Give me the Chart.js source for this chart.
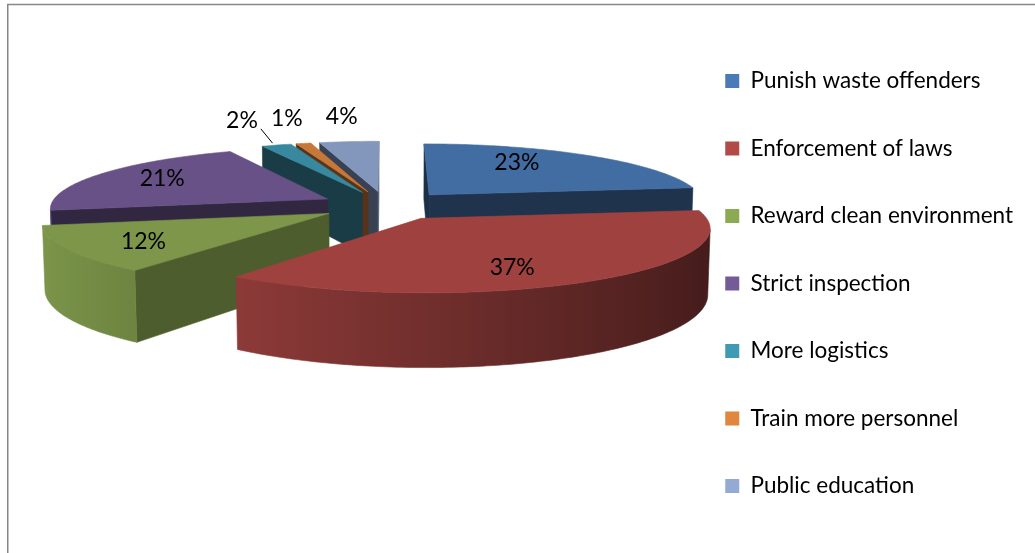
<!DOCTYPE html>
<html>
<head>
<meta charset="utf-8">
<title>Pie 3D</title>
<script src="https://cdn.jsdelivr.net/npm/chart.js@4.4.1/dist/chart.umd.min.js"></script>
<style>
  html, body { margin: 0; padding: 0; background: #fff; }
  #grafica { display: block; }
</style>
</head>
<body>
<canvas id="grafica" width="1035" height="553"></canvas>
<script>
// ===== Datos =====
const categorias = ["Punish waste offenders", "Enforcement of laws", "Reward clean environment",
  "Strict inspection", "More logistics", "Train more personnel", "Public education"];
const porcentajes = [23, 37, 12, 21, 2, 1, 4];
const colores = ["#4a7bb7", "#b34a47", "#8ca953", "#745b97", "#3f9ab3", "#e0863f", "#93aad4"];

// ===== Vista 3D (parecida a Excel) =====
const INCLINACION = 12.6 * Math.PI / 180;
const CAMARA = 7.2;      // distancia de la cámara, en radios
const GROSOR = 0.235;    // alto del pastel, en radios
const SEPARACION = 0.24; // explosión de las porciones
const ESCALA = 1.03;     // radio en pantalla / outerRadius
const SUBIR = -78;       // el pastel va por encima del centro del área
const PEQUENA = 5;       // porciones menores a esto llevan etiqueta afuera
const R_DENTRO_X = 0.65, R_DENTRO_Y = 0.8; // radios de las etiquetas internas
const CORRER_X = -17;    // corrimiento horizontal de las etiquetas internas
const R_FUERA = 1.3;     // radio de las etiquetas externas
const FUENTE = "23px Lato";

function oscurecer(hex, f) {
  const n = parseInt(hex.slice(1), 16);
  const c = [(n >> 16) & 255, (n >> 8) & 255, n & 255].map(v => Math.min(255, Math.round(v * f)));
  return `rgb(${c[0]},${c[1]},${c[2]})`;
}

function poligono(ctx, pts, color) {
  ctx.beginPath();
  pts.forEach((p, k) => k ? ctx.lineTo(p.x, p.y) : ctx.moveTo(p.x, p.y));
  ctx.closePath();
  ctx.fillStyle = color;
  ctx.fill();
  ctx.strokeStyle = color;
  ctx.lineWidth = 0.6;
  ctx.stroke();
}

// ===== Pastel 3D a partir de los arcos que calcula Chart.js =====
const pastel3d = {
  id: "pastel3d",
  beforeDatasetsDraw(chart) {
    const ctx = chart.ctx;
    const arcos = chart.getDatasetMeta(0).data;
    const valores = chart.data.datasets[0].data;
    const total = valores.reduce((a, b) => a + b, 0);
    const cx = arcos[0].x, cy = arcos[0].y + SUBIR;
    const s = arcos[0].outerRadius * ESCALA;
    const sinT = Math.sin(INCLINACION), cosT = Math.cos(INCLINACION);
    const camY = CAMARA * cosT;

    const proyectar = (X, Y, Z) => {
      const f = CAMARA / (CAMARA - (Y * cosT + Z * sinT));
      return { x: cx + s * X * f, y: cy + s * (Y * sinT - Z * cosT) * f };
    };
    const visible = (nx, ny, px, py) => nx * (-px) + ny * (camY - py) > 0;

    const porciones = arcos.map((arc, i) => {
      const a1 = arc.startAngle, a2 = arc.endAngle, mid = (a1 + a2) / 2;
      return { i, a1, a2, mid, ox: Math.cos(mid) * SEPARACION, oy: Math.sin(mid) * SEPARACION };
    });
    const orden = porciones.slice().sort((p, q) =>
      (p.oy + Math.sin(p.mid) * 0.5) - (q.oy + Math.sin(q.mid) * 0.5));

    ctx.save();
    orden.forEach(p => {
      const base = chart.data.datasets[0].backgroundColor[p.i];
      const n = Math.max(2, Math.ceil((p.a2 - p.a1) / (Math.PI / 180)));
      const borde = [];
      for (let k = 0; k <= n; k++) {
        const a = p.a1 + (p.a2 - p.a1) * k / n;
        const X = p.ox + Math.cos(a), Y = p.oy + Math.sin(a);
        borde.push({ a, X, Y, arriba: proyectar(X, Y, 0), abajo: proyectar(X, Y, -GROSOR) });
      }
      const cA = proyectar(p.ox, p.oy, 0), cB = proyectar(p.ox, p.oy, -GROSOR);

      // caras radiales
      const caras = [
        { nx: Math.sin(p.a1), ny: -Math.cos(p.a1), b: borde[0] },
        { nx: -Math.sin(p.a2), ny: Math.cos(p.a2), b: borde[n] }
      ];
      caras.forEach(c => {
        if (!visible(c.nx, c.ny, c.b.X, c.b.Y)) return;
        const f = 0.39 + 0.2 * Math.max(0, c.nx);
        poligono(ctx, [cA, c.b.arriba, c.b.abajo, cB], oscurecer(base, f));
      });

      // pared exterior con degradado horizontal
      let tramo = [];
      const pintarTramo = () => {
        if (tramo.length < 2) { tramo = []; return; }
        const pts = tramo.map(b => b.arriba).concat(tramo.slice().reverse().map(b => b.abajo));
        const xs = tramo.map(b => b.arriba.x);
        const x0 = Math.min(...xs), x1 = Math.max(...xs);
        const g = ctx.createLinearGradient(x0, 0, x1 + 0.01, 0);
        tramo.map(b => ({ t: (b.arriba.x - x0) / Math.max(1, x1 - x0), f: 0.71 - 0.29 * Math.cos(b.a) }))
          .sort((u, v) => u.t - v.t)
          .forEach(st => g.addColorStop(Math.min(1, Math.max(0, st.t)), oscurecer(base, 0.89 * st.f)));
        poligono(ctx, pts, g);
        tramo = [];
      };
      for (let k = 0; k <= n; k++) {
        const b = borde[k];
        if (visible(Math.cos(b.a), Math.sin(b.a), b.X, b.Y)) tramo.push(b);
        else pintarTramo();
      }
      pintarTramo();

      // cara superior
      poligono(ctx, [cA].concat(borde.map(b => b.arriba)), oscurecer(base, 0.89));
    });

    // ===== Etiquetas =====
    ctx.font = FUENTE;
    ctx.fillStyle = "#000";
    ctx.textAlign = "center";
    ctx.textBaseline = "middle";
    const afuera = [];
    porciones.forEach(p => {
      const texto = Math.round(valores[p.i] / total * 100) + "%";
      const dx = Math.cos(p.mid), dy = Math.sin(p.mid);
      if (valores[p.i] / total * 100 < PEQUENA) {
        const q = proyectar(p.ox + dx * R_FUERA, p.oy + dy * R_FUERA, 0);
        afuera.push({ texto, x: q.x, y: q.y - 12, w: ctx.measureText(texto).width,
          ancla: proyectar(p.ox + dx, p.oy + dy, 0) });
        return;
      }
      const q = proyectar(p.ox + dx * R_DENTRO_X, p.oy + dy * R_DENTRO_Y, 0);
      ctx.fillText(texto, q.x + CORRER_X, q.y);
    });
    afuera.sort((u, v) => v.x - u.x);
    afuera.forEach((e, k) => {
      if (k > 0) {
        const prev = afuera[k - 1];
        const limite = prev.x - prev.w / 2 - 13 - e.w / 2;
        if (e.x > limite) { e.x = limite; e.guia = true; }
      }
      ctx.fillText(e.texto, e.x, e.y);
      if (e.guia) {
        ctx.beginPath();
        ctx.moveTo(e.x + e.w / 2 + 3, e.y + 8);
        ctx.lineTo(e.ancla.x - 4, e.ancla.y - 2);
        ctx.strokeStyle = "#000";
        ctx.lineWidth = 1;
        ctx.stroke();
      }
    });
    ctx.restore();
    return false;
  },
  afterDraw(chart) {
    const ctx = chart.ctx;
    ctx.save();
    ctx.strokeStyle = "#878787";
    ctx.lineWidth = 1.5;
    ctx.beginPath();
    ctx.moveTo(7.75, chart.height);
    ctx.lineTo(7.75, 4.5);
    ctx.lineTo(chart.width, 4.5);
    ctx.stroke();
    ctx.restore();
  }
};

// ===== Gráfica =====
new Chart(document.getElementById("grafica"), {
  type: "pie",
  data: {
    labels: categorias,
    datasets: [{
      data: porcentajes,
      backgroundColor: colores,
      borderWidth: 0
    }]
  },
  options: {
    responsive: false,
    animation: false,
    devicePixelRatio: 1,
    events: [],
    layout: { padding: { left: 92, right: 12, top: 14, bottom: 0 } },
    plugins: {
      tooltip: { enabled: false },
      legend: {
        position: "right",
        align: "center",
        labels: {
          boxWidth: 14,
          boxHeight: 14,
          padding: 45,
          color: "#000",
          font: { family: "Lato", size: 22.5 }
        }
      }
    }
  },
  plugins: [pastel3d]
});
</script>
</body>
</html>
